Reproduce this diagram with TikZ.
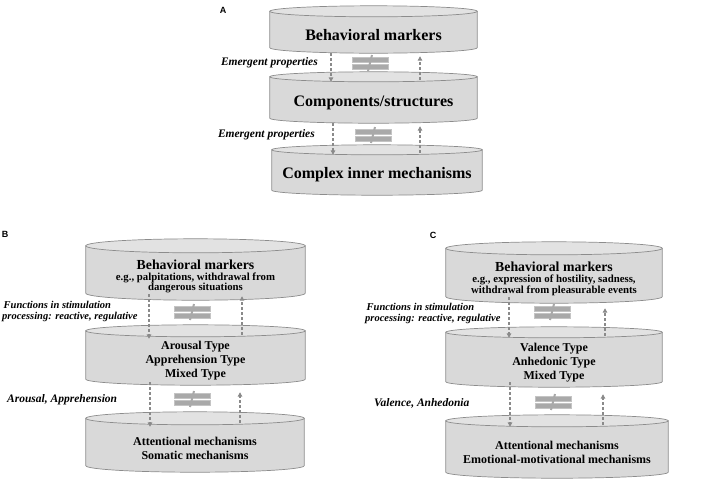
\documentclass[tikz,border=0pt]{standalone}
\usepackage{fontspec}
\setmainfont{Liberation Serif}
\newfontfamily\panelfont{Liberation Sans}
\usetikzlibrary{arrows.meta, positioning, calc, backgrounds}
\definecolor{drumgray}{HTML}{D9D9D9}
\definecolor{drumtop}{HTML}{E2E2E2}
\definecolor{drumline}{HTML}{8C8C8C}
\definecolor{arrowgray}{HTML}{8A8A8A}
\definecolor{neqgray}{HTML}{A9A9A9}
\definecolor{neqline}{HTML}{C4C4C4}

% cylinder drawn round a named node: #1 = half height of the end ellipse
\newcommand{\drum}[2][6]{%
  \path let \p1=(#2.north west), \p2=(#2.south east),
            \n1={(\x2-\x1)/2}, \n2={\y1+#1pt}, \n3={\y2+#1pt} in
    [fill=drumgray, draw=drumline, line width=0.7pt]
    (\x1,\n2) -- (\x1,\n3)
    arc[start angle=180, end angle=360, x radius=\n1, y radius=#1pt]
    -- (\x2,\n2) -- cycle;
  \path let \p1=(#2.north west), \p2=(#2.south east),
            \n1={(\x2-\x1)/2}, \n2={\y1+#1pt}, \n4={\x1+\n1} in
    [fill=drumtop, draw=drumline, line width=0.7pt]
    (\n4,\n2) ellipse[x radius=\n1, y radius=#1pt];
}

\begin{document}
\begin{tikzpicture}[x=1pt, y=-1pt,
    layer/.style={inner sep=0pt, align=center, text=black},
    big/.style={font=\fontsize{16}{18}\selectfont\bfseries},
    mid/.style={font=\fontsize{12}{14}\selectfont\bfseries},
    note/.style={font=\fontsize{11.5}{13}\selectfont\bfseries\itshape, inner sep=0pt},
    small note/.style={font=\fontsize{10.5}{11}\selectfont\bfseries\itshape, inner sep=0pt, align=left},
    panel/.style={font=\panelfont\fontsize{9}{10}\selectfont\bfseries, inner sep=0pt},
    flow/.style={draw=arrowgray, line width=1.2pt, dash pattern=on 3pt off 2pt,
                 -{Triangle[length=4.5pt, width=4.5pt]}},
    noteq/.pic={
      \path[fill=neqgray, draw=neqline, line width=0.5pt]
        (-18,-6) rectangle (18,-1) (-18,1) rectangle (18,6);
      \draw[neqgray, line width=2pt] (2,-8) -- (-2,8);
    }]
  \useasboundingbox (0,0) rectangle (708,485);

  % Panel A
  \node[panel] (pa) at (223,10) {A};
  \node[layer, big, minimum width=207, minimum height=36] (amark) at (373.5,35) {Behavioral markers};
  \node[layer, big, minimum width=207, minimum height=41] (acomp) at (373.5,102.5) {Components/structures};
  \node[layer, big, minimum width=210, minimum height=40] (amech) at (377,175) {Complex inner mechanisms};
  \node[note, anchor=east] (aem1) at (318,63) {Emergent properties};
  \node[note, anchor=east] (aem2) at (315,135) {Emergent properties};

  % Panel B
  \node[panel] (pb) at (5,234) {B};
  \node[layer, minimum width=219, minimum height=47] (bmark) at (195.5,276.5)
    {{\fontsize{13.8}{15}\selectfont\bfseries Behavioral markers}\\[-1pt]
     {\fontsize{10.8}{11.5}\selectfont\bfseries e.g., palpitations, withdrawal from}\\[-1.5pt]
     {\fontsize{10.8}{11.5}\selectfont\bfseries dangerous situations}};
  \node[layer, mid, minimum width=219, minimum height=48] (btype) at (195.5,361)
    {Arousal Type\\Apprehension Type\\Mixed Type};
  \node[layer, mid, minimum width=218, minimum height=47] (bmech) at (195,448.5)
    {Attentional mechanisms\\Somatic mechanisms};
  \node[small note, anchor=west] (bfun) at (2,311.5)
    {\hspace*{1.5pt}Functions in stimulation\\processing: reactive, regulative};
  \node[note, anchor=west] (barr) at (7,400) {Arousal, Apprehension};

  % Panel C
  \node[panel] (pc) at (433,235) {C};
  \node[layer, minimum width=216, minimum height=48] (cmark) at (554,279)
    {{\fontsize{13.8}{15}\selectfont\bfseries Behavioral markers}\\[-1pt]
     {\fontsize{10.8}{11.5}\selectfont\bfseries e.g., expression of hostility, sadness,}\\[-1.5pt]
     {\fontsize{10.8}{11.5}\selectfont\bfseries withdrawal from pleasurable events}};
  \node[layer, mid, minimum width=216, minimum height=49] (ctype) at (554,362.5)
    {Valence Type\\Anhedonic Type\\Mixed Type};
  \node[layer, mid, minimum width=222, minimum height=51] (cmech) at (557,452.5)
    {Attentional mechanisms\\Emotional-motivational mechanisms};
  \node[small note, anchor=west] (cfun) at (365,313)
    {\hspace*{1.5pt}Functions in stimulation\\processing: reactive, regulative};
  \node[note, anchor=west] (cval) at (374,403) {Valence, Anhedonia};

  % cylinders behind the texts
  \begin{scope}[on background layer]
    \drum[5.5]{amark} \drum[5]{acomp} \drum[5]{amech}
    \drum[7]{bmark} \drum[6]{btype} \drum[6.5]{bmech}
    \drum[6.5]{cmark} \drum[5.5]{ctype} \drum[6]{cmech}
  \end{scope}

  % dashed links between the layers
  \draw[flow] ([xshift=-42.5pt]amark.south) -- ([xshift=-42.5pt]amark.south |- acomp.north);
  \draw[flow, shorten <=2pt, shorten >=3pt] ([xshift=46.5pt]amark.south |- acomp.north) -- ([xshift=46.5pt]amark.south);
  \draw[flow] ([xshift=-40.5pt]acomp.south) -- ([xshift=-40.5pt]acomp.south |- amech.north);
  \draw[flow, shorten <=2pt, shorten >=3pt] ([xshift=46.5pt]acomp.south |- amech.north) -- ([xshift=46.5pt]acomp.south);

  \draw[flow] ([xshift=-46.5pt,yshift=6pt]bmark.south) -- ([xshift=-46.5pt,yshift=-2pt]bmark.south |- btype.north);
  \draw[flow, shorten <=2pt, shorten >=3pt] ([xshift=46.5pt]bmark.south |- btype.north) -- ([xshift=46.5pt,yshift=7pt]bmark.south);
  \draw[flow] ([xshift=-45.5pt,yshift=3pt]btype.south) -- ([xshift=-45.5pt,yshift=-2pt]btype.south |- bmech.north);
  \draw[flow, shorten <=2pt, shorten >=3pt] ([xshift=44.5pt]btype.south |- bmech.north) -- ([xshift=44.5pt,yshift=-4pt]btype.south);

  \draw[flow] ([xshift=-45pt,yshift=6pt]cmark.south) -- ([xshift=-45pt]cmark.south |- ctype.north);
  \draw[flow, shorten <=2pt, shorten >=3pt] ([xshift=51pt]cmark.south |- ctype.north) -- ([xshift=51pt,yshift=-2pt]cmark.south);
  \draw[flow] ([xshift=-44pt,yshift=5pt]ctype.south) -- ([xshift=-44pt]ctype.south |- cmech.north);
  \draw[flow, shorten <=2pt, shorten >=3pt] ([xshift=49pt]ctype.south |- cmech.north) -- ([xshift=49pt,yshift=-4pt]ctype.south);

  % not-equal marks
  \pic at (370,63) {noteq};
  \pic at (373,135) {noteq};
  \pic at (192,312) {noteq};
  \pic at (192,399) {noteq};
  \pic at (552,312) {noteq};
  \pic at (553,402) {noteq};
\end{tikzpicture}
\end{document}
